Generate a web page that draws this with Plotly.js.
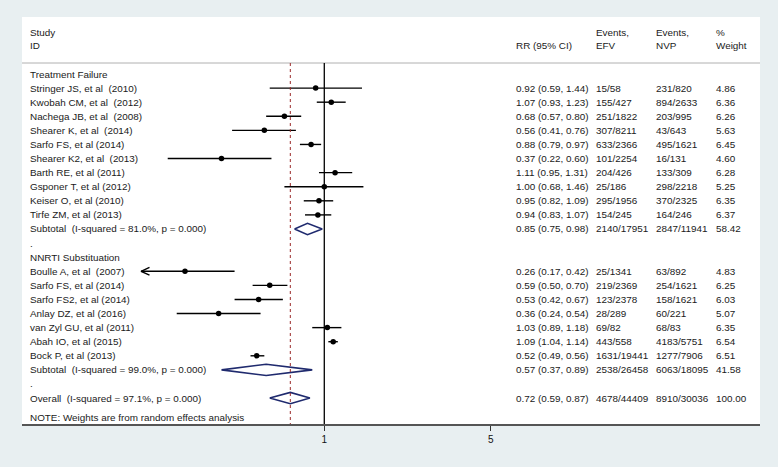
<!DOCTYPE html>
<html>
<head>
<meta charset="utf-8">
<script src="https://cdn.plot.ly/plotly-3.0.1.min.js"></script>
<style>html,body{margin:0;padding:0;background:#e8eff1;}#chart{width:778px;height:467px;}</style>
</head>
<body>
<div id="chart"></div>
<script>
// ---- data ----
const rowLabels = [
  "Treatment Failure",
  "Stringer JS, et al  (2010)",
  "Kwobah CM, et al  (2012)",
  "Nachega JB, et al  (2008)",
  "Shearer K, et al  (2014)",
  "Sarfo FS, et al (2014)",
  "Shearer K2, et al  (2013)",
  "Barth RE, et al (2011)",
  "Gsponer T, et al (2012)",
  "Keiser O, et al (2010)",
  "Tirfe ZM, et al (2013)",
  "Subtotal  (I-squared = 81.0%, p = 0.000)",
  ".",
  "NNRTI Substituation",
  "Boulle A, et al  (2007)",
  "Sarfo FS, et al (2014)",
  "Sarfo FS2, et al (2014)",
  "Anlay DZ, et al (2016)",
  "van Zyl GU, et al (2011)",
  "Abah IO, et al (2015)",
  "Bock P, et al (2013)",
  "Subtotal  (I-squared = 99.0%, p = 0.000)",
  ".",
  "Overall  (I-squared = 97.1%, p = 0.000)"
];
const rowType = ["head","study","study","study","study","study","study","study","study","study","study","sub","blank",
                 "head","study","study","study","study","study","study","study","sub","blank","overall"];
const rr  = [null,0.92,1.07,0.68,0.56,0.88,0.37,1.11,1.00,0.95,0.94,0.85,null,null,0.26,0.59,0.53,0.36,1.03,1.09,0.52,0.57,null,0.72];
const lo  = [null,0.59,0.93,0.57,0.41,0.79,0.22,0.95,0.68,0.82,0.83,0.75,null,null,0.17,0.50,0.42,0.24,0.89,1.04,0.49,0.37,null,0.59];
const hi  = [null,1.44,1.23,0.80,0.76,0.97,0.60,1.31,1.46,1.09,1.07,0.98,null,null,0.42,0.70,0.67,0.54,1.18,1.14,0.56,0.89,null,0.87];
const efv = [null,"15/58","155/427","251/1822","307/8211","633/2366","101/2254","204/426","25/186","295/1956","154/245","2140/17951",null,null,
             "25/1341","219/2369","123/2378","28/289","69/82","443/558","1631/19441","2538/26458",null,"4678/44409"];
const nvp = [null,"231/820","894/2633","203/995","43/643","495/1621","16/131","133/309","298/2218","370/2325","164/246","2847/11941",null,null,
             "63/892","254/1621","158/1621","60/221","68/83","4183/5751","1277/7906","6063/18095",null,"8910/30036"];
const weight = [null,"4.86","6.36","6.26","5.63","6.45","4.60","6.28","5.25","6.35","6.37","58.42",null,null,
                "4.83","6.25","6.03","5.07","6.35","6.54","6.51","41.58",null,"100.00"];
const headerTop = ["Study","","Events,","Events,","%"];
const headerBot = ["ID","RR (95% CI)","EFV","NVP","Weight"];
const note = "NOTE: Weights are from random effects analysis";
const tickVals = [1,5];
const tickText = ["1","5"];
const arrowBelow = 0.2; // CIs below this get an arrow

// ---- style ----
const FONT = "Liberation Sans, Arial, sans-serif";
const FS = 9.9;
const TXT = "#1a1a1a";
const colX = [0.0081, 0.6667, 0.7751, 0.8564, 0.9377];
const rowsTop = -4.045, rowsBot = 24.84;
const headerLineY = -0.78;

const traces = [];
const ciX = [], ciY = [];
const arX = [], arY = [];
const ptX = [], ptY = [];
const dmX = [], dmY = [];
rowType.forEach((t, i) => {
  if (t === "study") {
    ciX.push(lo[i], hi[i], null); ciY.push(i, i, null);
    ptX.push(rr[i]); ptY.push(i);
    if (lo[i] < arrowBelow) {
      const f = 1.085;
      arX.push(lo[i]*f, lo[i], lo[i]*f, null); arY.push(i-0.28, i, i+0.28, null);
    }
  } else if (t === "sub" || t === "overall") {
    dmX.push(lo[i], rr[i], hi[i], rr[i], lo[i], null);
    dmY.push(i, i-0.4, i, i+0.4, i, null);
  }
});
traces.push({x: ciX, y: ciY, mode: "lines", type: "scatter", line: {color: "#000", width: 1.4}, hoverinfo: "skip"});
traces.push({x: arX, y: arY, mode: "lines", type: "scatter", line: {color: "#000", width: 1.4}, hoverinfo: "skip"});
traces.push({x: ptX, y: ptY, mode: "markers", type: "scatter", marker: {color: "#000", size: 5.5, symbol: "circle"}, hoverinfo: "skip"});
traces.push({x: dmX, y: dmY, mode: "lines", type: "scatter", line: {color: "#1f2a6e", width: 1.6}, hoverinfo: "skip"});

const ann = [];
function addText(x, y, text) {
  ann.push({xref: "paper", yref: "y", x: x, y: y, text: text, showarrow: false,
            xanchor: "left", yanchor: "middle", font: {family: FONT, size: FS, color: TXT}});
}
headerTop.forEach((h, j) => { if (h) addText(colX[j], -2.91, h); });
headerBot.forEach((h, j) => { if (h) addText(colX[j], -1.99, h); });
rowLabels.forEach((lab, i) => {
  addText(colX[0], i, lab.replace(/  /g, " \u00a0"));
  if (rr[i] !== null) {
    addText(colX[1], i, rr[i].toFixed(2) + " (" + lo[i].toFixed(2) + ", " + hi[i].toFixed(2) + ")");
    addText(colX[2], i, efv[i]);
    addText(colX[3], i, nvp[i]);
    addText(colX[4], i, weight[i]);
  }
});
addText(colX[0], 24.41, note);

const overallIdx = rowType.indexOf("overall");
const shapes = [
  {type: "line", xref: "paper", yref: "y", x0: 0, x1: 1, y0: headerLineY, y1: headerLineY, line: {color: "#b0b0b0", width: 1}},
  {type: "line", xref: "x", yref: "y", x0: 1, x1: 1, y0: headerLineY, y1: rowsBot, line: {color: "#000", width: 1.3}},
  {type: "line", xref: "x", yref: "y", x0: rr[overallIdx], x1: rr[overallIdx], y0: headerLineY, y1: rowsBot,
   line: {color: "#9b2a2a", width: 1, dash: "3px,3px"}}
];

const layout = {
  width: 778, height: 467,
  margin: {l: 22, r: 18, t: 17, b: 43, pad: 0},
  paper_bgcolor: "#e8eff1",
  plot_bgcolor: "#ffffff",
  showlegend: false,
  hovermode: false,
  xaxis: {type: "log", range: [-1.2696, 1.830], tickvals: tickVals, ticktext: tickText,
          ticks: "outside", ticklen: 5, tickwidth: 1, tickcolor: "#333",
          showgrid: false, zeroline: false, showline: true, linecolor: "#555", linewidth: 2,
          tickfont: {family: FONT, size: 10, color: "#111"}, fixedrange: true},
  yaxis: {range: [rowsBot, rowsTop], showgrid: false, zeroline: false, showline: false,
          showticklabels: false, ticks: "", fixedrange: true},
  annotations: ann,
  shapes: shapes
};
Plotly.newPlot("chart", traces, layout, {displayModeBar: false, staticPlot: true});
</script>
</body>
</html>
